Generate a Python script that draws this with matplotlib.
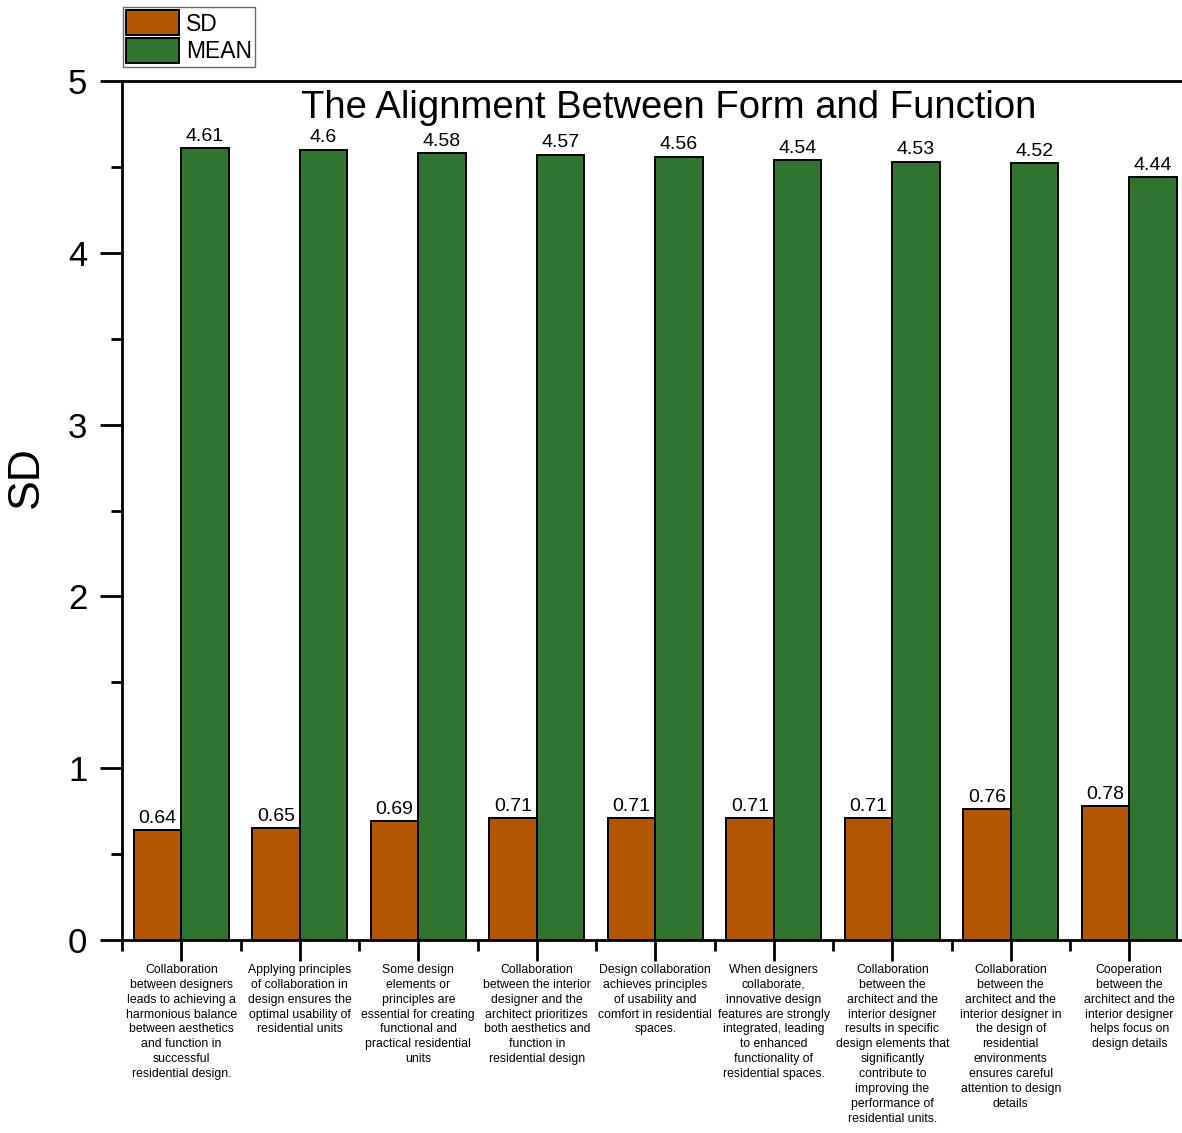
import numpy as np
import matplotlib.pyplot as plt
from matplotlib.ticker import MultipleLocator, FixedLocator

plt.rcParams['font.family'] = ['Liberation Sans', 'DejaVu Sans']

#%% data
categories = [
    "Collaboration\nbetween designers\nleads to achieving a\nharmonious balance\nbetween aesthetics\nand function in\nsuccessful\nresidential design.",
    "Applying principles\nof collaboration in\ndesign ensures the\noptimal usability of\nresidential units",
    "Some design\nelements or\nprinciples are\nessential for creating\nfunctional and\npractical residential\nunits",
    "Collaboration\nbetween the interior\ndesigner and the\narchitect prioritizes\nboth aesthetics and\nfunction in\nresidential design",
    "Design collaboration\nachieves principles\nof usability and\ncomfort in residential\nspaces.",
    "When designers\ncollaborate,\ninnovative design\nfeatures are strongly\nintegrated, leading\nto enhanced\nfunctionality of\nresidential spaces.",
    "Collaboration\nbetween the\narchitect and the\ninterior designer\nresults in specific\ndesign elements that\nsignificantly\ncontribute to\nimproving the\nperformance of\nresidential units.",
    "Collaboration\nbetween the\narchitect and the\ninterior designer in\nthe design of\nresidential\nenvironments\nensures careful\nattention to design\ndetails",
    "Cooperation\nbetween the\narchitect and the\ninterior designer\nhelps focus on\ndesign details",
]
sd_values = [0.64, 0.65, 0.69, 0.71, 0.71, 0.71, 0.71, 0.76, 0.78]
mean_values = [4.61, 4.6, 4.58, 4.57, 4.56, 4.54, 4.53, 4.52, 4.44]

sd_color = '#B35703'
mean_color = '#31742F'

#%% plot
W, H = 1182, 1133
fig = plt.figure(figsize=(W / 100, H / 100), dpi=100)
ax = fig.add_axes([122 / W, 1 - 940 / H, 1060 / W, (940 - 81) / H])

x = np.arange(1, len(categories) + 1)
bw = 0.4
b1 = ax.bar(x - bw / 2, sd_values, bw, color=sd_color, edgecolor='black', linewidth=1.4, label='SD')
b2 = ax.bar(x + bw / 2, mean_values, bw, color=mean_color, edgecolor='black', linewidth=1.4, label='MEAN')

for bars, vals in [(b1, sd_values), (b2, mean_values)]:
    for bar, v in zip(bars, vals):
        ax.text(bar.get_x() + bar.get_width() / 2, v + 0.02, f'{v:g}',
                ha='center', va='bottom', fontsize=14)

ax.set_xlim(0.5, 0.5 + 1060 / 118.5)
ax.set_ylim(0, 5)

ax.xaxis.set_major_locator(FixedLocator(x))
ax.xaxis.set_minor_locator(FixedLocator(np.arange(0.5, 10, 1.0)))
ax.set_xticklabels(categories, fontsize=8.8, linespacing=1.33, va='top')
ax.yaxis.set_major_locator(MultipleLocator(1))
ax.yaxis.set_minor_locator(MultipleLocator(0.5))
ax.tick_params(axis='y', which='major', direction='out', length=16, width=2, labelsize=25, pad=9)
ax.tick_params(axis='y', which='minor', direction='out', length=8, width=2)
ax.tick_params(axis='x', which='major', direction='out', length=15, width=2, pad=2)
ax.tick_params(axis='x', which='minor', direction='out', length=8, width=2)

for s in ['left', 'bottom', 'top']:
    ax.spines[s].set_linewidth(2)
ax.spines['right'].set_visible(False)

ax.set_ylabel('SD', fontsize=32)
ax.yaxis.set_label_coords((47 - 122) / 1060, (940 - 477) / (940 - 81))
ax.text(0.516, 0.99, 'The Alignment Between Form and Function', transform=ax.transAxes,
        ha='center', va='top', fontsize=27.5)

fig.legend(handles=[b1, b2], labels=['SD', 'MEAN'], loc='upper left',
           bbox_to_anchor=(123 / W, 1 - 7 / H), fontsize=16.5, frameon=True, fancybox=False,
           edgecolor='#444444', handlelength=2.3, handleheight=1.3, handletextpad=0.3,
           borderpad=0.15, labelspacing=0.1, borderaxespad=0)

fig.savefig('out.png', dpi=100)
